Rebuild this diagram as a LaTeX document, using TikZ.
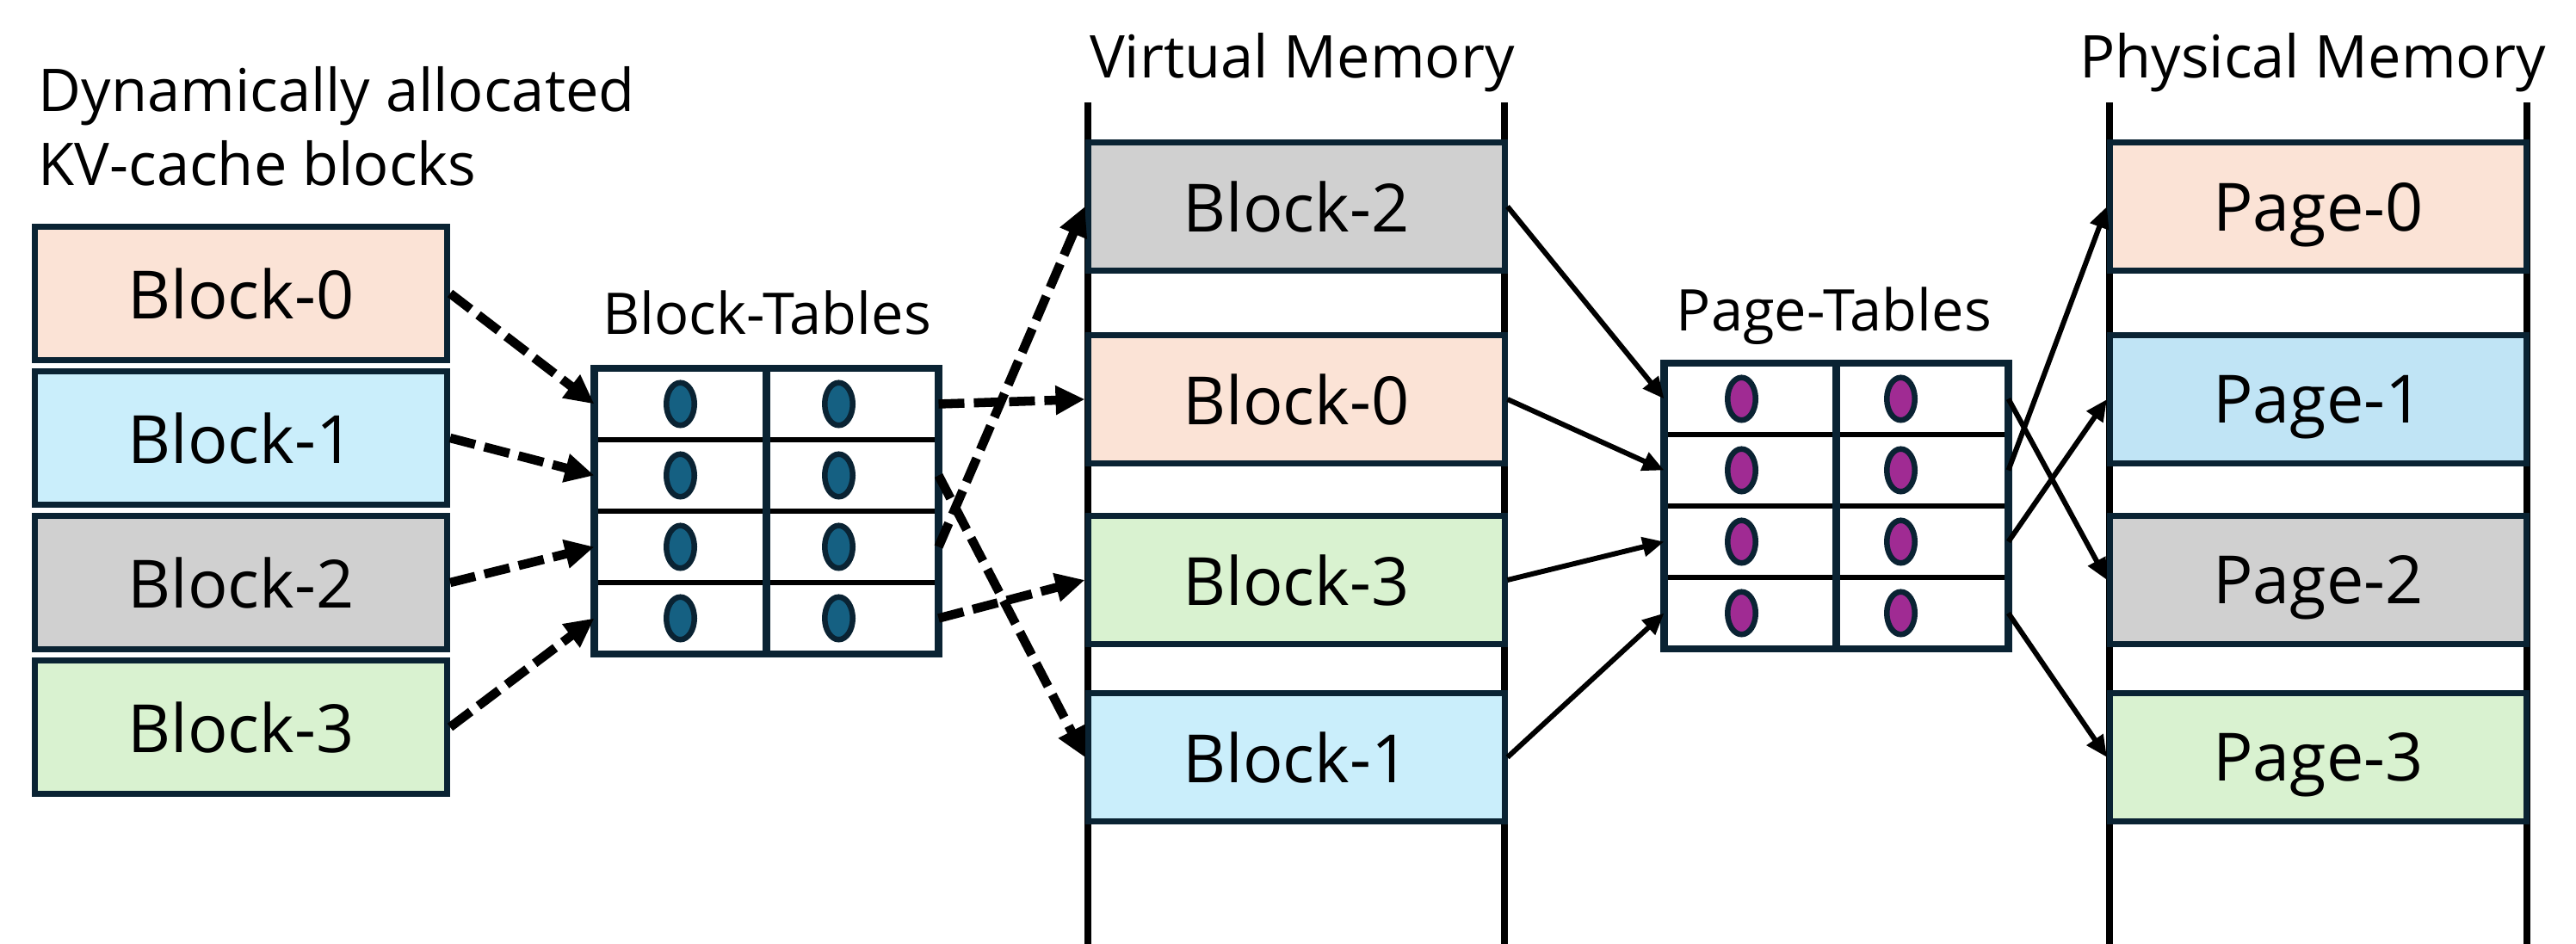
\documentclass[tikz,border=0pt]{standalone}
\usepackage{fontspec}
\setmainfont{Open Sans}
\usetikzlibrary{arrows.meta}

\definecolor{navy}{HTML}{0A2333}
\definecolor{peach}{HTML}{FBE3D6}
\definecolor{skyblue}{HTML}{CAEEFB}
\definecolor{paleblue}{HTML}{C0E4F5}
\definecolor{lightgrey}{HTML}{D0D0D0}
\definecolor{palegreen}{HTML}{D9F2D0}
\definecolor{tealdot}{HTML}{156082}
\definecolor{purpledot}{HTML}{A02B93}

\tikzset{
  kvblock/.style={draw=navy, line width=2pt, minimum width=4.79cm, minimum height=1.55cm,
    inner sep=0pt, text depth=0pt, font=\fontsize{22}{26}\selectfont},
  memblock/.style={kvblock, minimum width=4.84cm, minimum height=1.49cm},
  tcell/.style 2 args={fill=white, minimum width=2cm, minimum height=0.83cm, inner sep=0pt, outer sep=0pt,
    path picture={\draw[draw=navy, line width=1.85pt, fill=#1] ([xshift=#2]path picture bounding box.center)
      ellipse [x radius=0.1625cm, y radius=0.2475cm];}},
  heading/.style={anchor=base, font=\fontsize{19.5}{24.7}\selectfont},
  memline/.style={line width=2.2pt},
  rowline/.style={line width=1.7pt},
  tabline/.style={draw=navy, line width=2.3pt},
  dasharrow/.style={-{Triangle[length=0.34cm,width=0.32cm]}, line width=3pt,
    dash pattern=on 0.30cm off 0.11cm},
  solidarrow/.style={-{Triangle[length=0.25cm,width=0.22cm]}, line width=1.7pt},
}

\begin{document}
\begin{tikzpicture}
  \useasboundingbox (0,0) rectangle (29.93,10.97);
  % memory columns
  \draw[memline] (12.64,0) -- (12.64,9.78) (17.48,0) -- (17.48,9.78);
  \draw[memline] (24.51,0) -- (24.51,9.78) (29.36,0) -- (29.36,9.78);
  % titles
  \node[anchor=base west, align=left, inner sep=0pt, font=\fontsize{19.5}{24.7}\selectfont] (kvtitle)
    at (0.44,8.81) {Dynamically allocated\\KV-cache blocks};
  \node[heading] (vmtitle) at (15.13,10.06) {Virtual Memory};
  \node[heading] (pmtitle) at (26.87,10.06) {Physical Memory};
  \node[heading, font=\fontsize{19}{24}\selectfont] (bttitle) at (8.91,7.08) {Block-Tables};
  \node[heading, font=\fontsize{19}{24}\selectfont] (pttitle) at (21.31,7.12) {Page-Tables};
  % kv-cache blocks
  \draw
    (2.80,7.56) node[kvblock, fill=peach] (kv0) {Block-0}
    (2.80,5.88) node[kvblock, fill=skyblue] (kv1) {Block-1}
    (2.80,4.20) node[kvblock, fill=lightgrey] (kv2) {Block-2}
    (2.80,2.52) node[kvblock, fill=palegreen] (kv3) {Block-3};
  % virtual memory
  \draw
    (15.06,8.57) node[memblock, fill=lightgrey] (vm2) {Block-2}
    (15.06,6.33) node[memblock, fill=peach] (vm0) {Block-0}
    (15.06,4.23) node[memblock, fill=palegreen] (vm3) {Block-3}
    (15.06,2.17) node[memblock, fill=skyblue] (vm1) {Block-1};
  % physical memory
  \draw
    (26.935,8.57) node[memblock, fill=peach] (pm0) {Page-0}
    (26.935,6.33) node[memblock, fill=paleblue] (pm1) {Page-1}
    (26.935,4.23) node[memblock, fill=lightgrey] (pm2) {Page-2}
    (26.935,2.17) node[memblock, fill=palegreen] (pm3) {Page-3};
  % block table
  \draw
    (7.905,6.275) node[tcell={tealdot}{0cm}] (b11) {}
    (9.905,6.275) node[tcell={tealdot}{-0.16cm}] (b12) {}
    (7.905,5.445) node[tcell={tealdot}{0cm}] (b21) {}
    (9.905,5.445) node[tcell={tealdot}{-0.16cm}] (b22) {}
    (7.905,4.615) node[tcell={tealdot}{0cm}] (b31) {}
    (9.905,4.615) node[tcell={tealdot}{-0.16cm}] (b32) {}
    (7.905,3.785) node[tcell={tealdot}{0cm}] (b41) {}
    (9.905,3.785) node[tcell={tealdot}{-0.16cm}] (b42) {};
  \draw[rowline] (b11.south west) -- (b12.south east);
  \draw[rowline] (b21.south west) -- (b22.south east);
  \draw[rowline] (b31.south west) -- (b32.south east);
  \draw[tabline] (b11.north west) rectangle (b42.south east);
  \draw[tabline] (b11.north east) -- (b41.south east);
  % page table
  \draw
    (20.335,6.335) node[tcell={purpledot}{-0.1cm}] (p11) {}
    (22.335,6.335) node[tcell={purpledot}{-0.25cm}] (p12) {}
    (20.335,5.505) node[tcell={purpledot}{-0.1cm}] (p21) {}
    (22.335,5.505) node[tcell={purpledot}{-0.25cm}] (p22) {}
    (20.335,4.675) node[tcell={purpledot}{-0.1cm}] (p31) {}
    (22.335,4.675) node[tcell={purpledot}{-0.25cm}] (p32) {}
    (20.335,3.845) node[tcell={purpledot}{-0.1cm}] (p41) {}
    (22.335,3.845) node[tcell={purpledot}{-0.25cm}] (p42) {};
  \draw[rowline] (p11.south west) -- (p12.south east);
  \draw[rowline] (p21.south west) -- (p22.south east);
  \draw[rowline] (p31.south west) -- (p32.south east);
  \draw[tabline] (p11.north west) rectangle (p42.south east);
  \draw[tabline] (p11.north east) -- (p41.south east);
  % kv blocks -> block table -> virtual memory
  \begin{scope}[dasharrow]
    \draw (kv0.east) to (b11.west);
    \draw (kv1.east) to (b21.west);
    \draw (kv2.east) to (b31.west);
    \draw (kv3.east) to (b41.west);
    \draw (b12.east) to (vm0.west);
    \draw (b22.east) to (vm1.west);
    \draw (b32.east) to (vm2.west);
    \draw (b42.east) to (vm3.west);
  \end{scope}
  % virtual memory -> page table -> physical memory
  \begin{scope}[solidarrow]
    \draw (vm2.east) to (p11.west);
    \draw (vm0.east) to (p21.west);
    \draw (vm3.east) to (p31.west);
    \draw (vm1.east) to (p41.west);
    \draw (p12.east) to (pm2.west);
    \draw (p22.east) to (pm0.west);
    \draw (p32.east) to (pm1.west);
    \draw (p42.east) to (pm3.west);
  \end{scope}
\end{tikzpicture}
\end{document}
